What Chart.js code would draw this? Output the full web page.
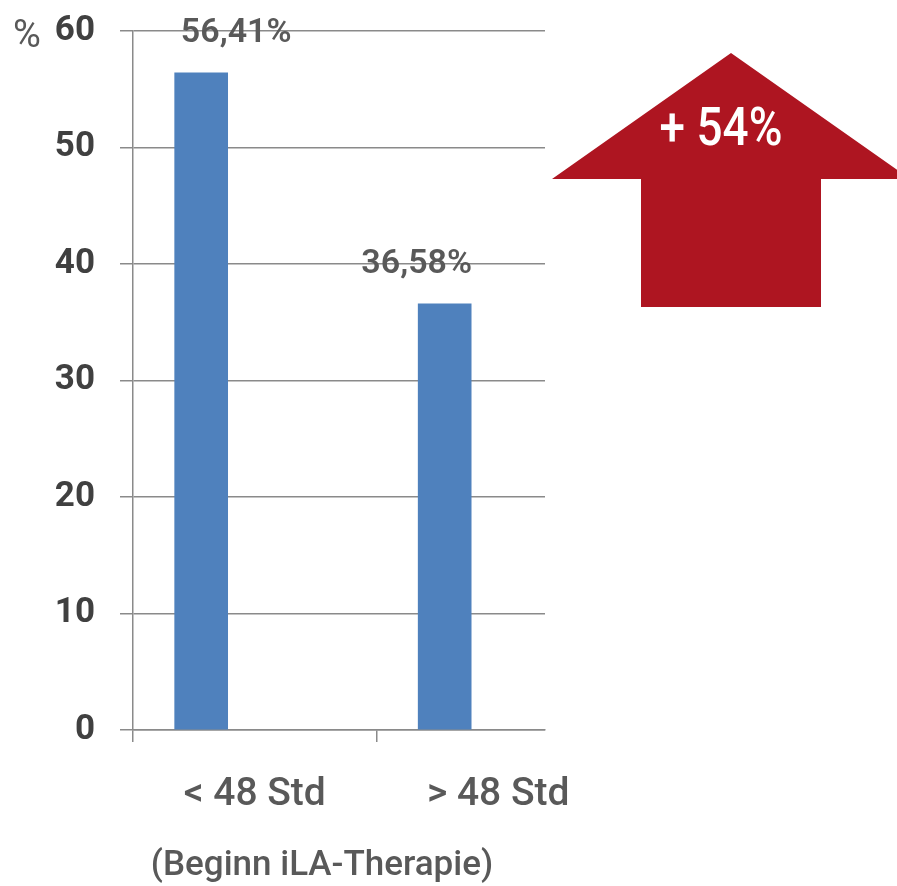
<!DOCTYPE html>
<html>
<head>
<meta charset="utf-8">
<script src="https://cdn.jsdelivr.net/npm/chart.js@4/dist/chart.umd.min.js"></script>
<style>
  html, body { margin: 0; padding: 0; background: #fff; }
  #wrap { width: 897px; height: 886px; }
</style>
</head>
<body>
<div id="wrap"><canvas id="chart" width="897" height="886"></canvas></div>
<script>
// Data
const categories = ['< 48 Std', '> 48 Std'];
const values = [56.41, 36.58];
const valueLabels = ['56,41%', '36,58%'];
const yTicks = [0, 10, 20, 30, 40, 50, 60];
const changeLabel = '+ 54%';
const axisTitle = '(Beginn iLA-Therapie)';

// Bars sit in the left part of each category slot (Excel style)
const barOffset = 0.28;
const xMax = 1.692;

const gridColor = '#8a8a8a';
const font = 'Roboto, "DejaVu Sans", sans-serif';

// Decorations: value labels, "%" unit, axis title and the red arrow
const extras = {
    id: 'extras',
    afterDatasetsDraw(chart) {
        const ctx = chart.ctx;
        const meta = chart.getDatasetMeta(0);
        const shifts = [35, -28];
        ctx.save();
        ctx.fillStyle = '#595959';
        ctx.font = '600 34px ' + font;
        ctx.textAlign = 'center';
        ctx.textBaseline = 'alphabetic';
        meta.data.forEach((bar, i) => {
            ctx.fillText(valueLabels[i], bar.x + shifts[i], bar.y - 31);
        });

        // unit
        ctx.font = '38px ' + font;
        ctx.fillText('%', 27, 47);

        // x axis title
        ctx.font = '500 35px ' + font;
        ctx.fillText(axisTitle, 322, 875);

        // arrow
        ctx.fillStyle = '#ae1521';
        ctx.beginPath();
        ctx.moveTo(731, 53);
        ctx.lineTo(910, 179);
        ctx.lineTo(821, 179);
        ctx.lineTo(821, 307);
        ctx.lineTo(641, 307);
        ctx.lineTo(641, 179);
        ctx.lineTo(552, 179);
        ctx.closePath();
        ctx.fill();

        ctx.fillStyle = '#ffffff';
        ctx.font = '500 54px ' + font;
        ctx.translate(721, 145);
        ctx.scale(0.85, 1);
        ctx.fillText(changeLabel, 0, 0);
        ctx.restore();
    }
};

new Chart(document.getElementById('chart'), {
    type: 'bar',
    data: {
        datasets: [{
            data: values.map((v, i) => ({ x: i + barOffset, y: v })),
            backgroundColor: '#4f81bd',
            barThickness: 53
        }]
    },
    options: {
        responsive: false,
        animation: false,
        layout: { padding: { top: 31, right: 352, left: 0, bottom: 0 } },
        plugins: { legend: { display: false }, tooltip: { enabled: false } },
        scales: {
            x: {
                type: 'linear',
                offset: false,
                min: 0,
                max: xMax,
                afterBuildTicks(axis) {
                    axis.ticks = [0, 0.5, 1, 1.5].map(v => ({ value: v }));
                },
                afterFit(axis) { axis.height = 156; },
                grid: {
                    offset: false,
                    drawOnChartArea: false,
                    drawTicks: true,
                    tickLength: 12,
                    tickColor: c => Number.isInteger(c.tick && c.tick.value) ? gridColor : 'rgba(0,0,0,0)',
                    lineWidth: 1.5
                },
                border: { color: gridColor, width: 1.5 },
                ticks: {
                    autoSkip: false,
                    maxRotation: 0,
                    padding: 30,
                    color: '#595959',
                    font: { family: font, size: 39, weight: '500' },
                    callback: v => (v === 0.5 ? categories[0] : v === 1.5 ? categories[1] : '')
                }
            },
            y: {
                min: 0,
                max: 60,
                afterBuildTicks(axis) {
                    axis.ticks = yTicks.map(v => ({ value: v }));
                },
                afterFit(axis) {
                    axis.width = 133;
                    axis.paddingTop = 0;
                    axis.paddingBottom = 0;
                },
                grid: { color: gridColor, lineWidth: 1.5, tickLength: 13 },
                border: { color: gridColor, width: 1.5 },
                ticks: {
                    padding: 25,
                    color: '#404040',
                    font: { family: font, size: 35, weight: 'bold', lineHeight: 1 }
                }
            }
        }
    },
    plugins: [extras]
});
</script>
</body>
</html>
